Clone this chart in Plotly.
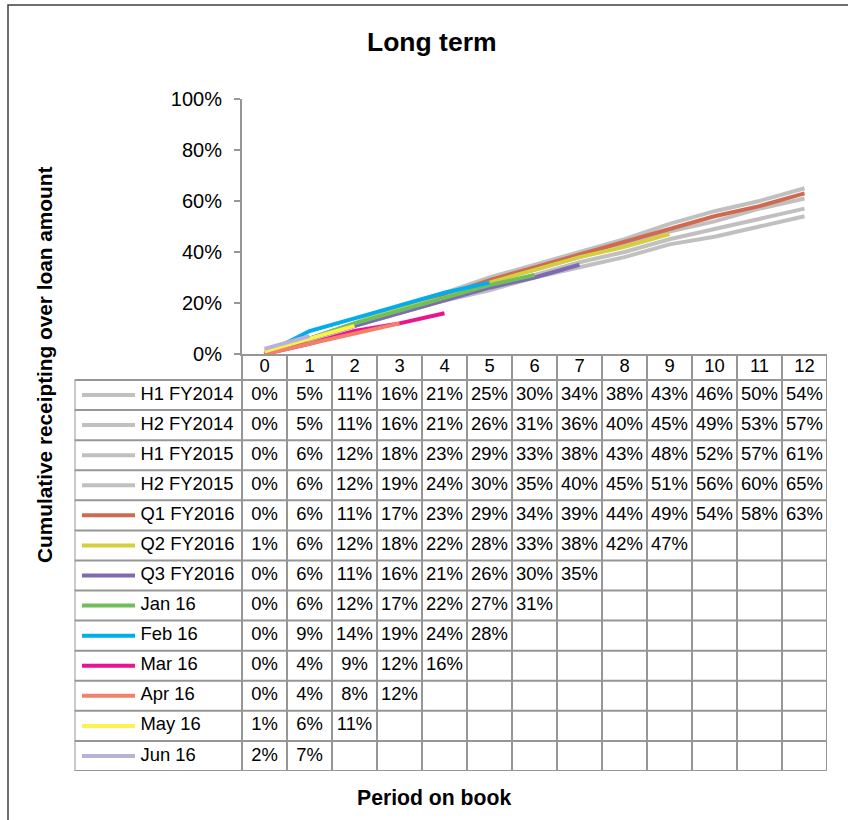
import plotly.graph_objects as go

# ---------------- data ----------------
periods = list(range(13))
series_names = ["H1 FY2014", "H2 FY2014", "H1 FY2015", "H2 FY2015", "Q1 FY2016",
                "Q2 FY2016", "Q3 FY2016", "Jan 16", "Feb 16", "Mar 16", "Apr 16",
                "May 16", "Jun 16"]
h1_fy2014 = [0, 5, 11, 16, 21, 25, 30, 34, 38, 43, 46, 50, 54]
h2_fy2014 = [0, 5, 11, 16, 21, 26, 31, 36, 40, 45, 49, 53, 57]
h1_fy2015 = [0, 6, 12, 18, 23, 29, 33, 38, 43, 48, 52, 57, 61]
h2_fy2015 = [0, 6, 12, 19, 24, 30, 35, 40, 45, 51, 56, 60, 65]
q1_fy2016 = [0, 6, 11, 17, 23, 29, 34, 39, 44, 49, 54, 58, 63]
q2_fy2016 = [1, 6, 12, 18, 22, 28, 33, 38, 42, 47]
q3_fy2016 = [0, 6, 11, 16, 21, 26, 30, 35]
jan_16 = [0, 6, 12, 17, 22, 27, 31]
feb_16 = [0, 9, 14, 19, 24, 28]
mar_16 = [0, 4, 9, 12, 16]
apr_16 = [0, 4, 8, 12]
may_16 = [1, 6, 11]
jun_16 = [2, 7]
series_values = [h1_fy2014, h2_fy2014, h1_fy2015, h2_fy2015, q1_fy2016, q2_fy2016,
                 q3_fy2016, jan_16, feb_16, mar_16, apr_16, may_16, jun_16]
series_colors = ["#C0C0C0", "#C0C0C0", "#C0C0C0", "#C0C0C0", "#CF6A4E",
                 "#D3CF3E", "#7E6AB3", "#6FBE5A", "#00AEEF", "#EA1390",
                 "#F5806A", "#FAF24E", "#B9B1D8"]
y_ticks = [0, 0.2, 0.4, 0.6, 0.8, 1.0]

# ---------------- layout helpers ----------------
W, H = 848, 820
def fx(p):
    return p / W
def fy(p):
    return 1 - p / H

chart_left, chart_right = 242, 827
chart_top, chart_bottom = 99, 354
table_left, table_bottom = 74.5, 771
col_px = (chart_right - chart_left) / len(periods)
row_px = (table_bottom - 380) / len(series_names)
header_units = (380 - chart_bottom) / row_px
label_units = (chart_left - table_left) / col_px
x2_min = -0.5 - label_units
x2_max = len(periods) - 0.5
y2_top = 0.5 - header_units
y2_bottom = len(series_names) + 0.5
grid_color = "#969696"
font_family = "Liberation Sans, Arial, sans-serif"
table_font = 18.4

fig = go.Figure()

# chart lines
for name, vals, col in zip(series_names, series_values, series_colors):
    fig.add_trace(go.Scatter(
        x=periods[:len(vals)], y=[v / 100 for v in vals], mode="lines", name=name,
        line=dict(color=col, width=4), xaxis="x", yaxis="y", hoverinfo="skip"))

# table: legend samples
for i, (name, col) in enumerate(zip(series_names, series_colors)):
    row = i + 1
    fig.add_trace(go.Scatter(
        x=[x2_min + 7.5 / col_px, x2_min + 60.5 / col_px], y=[row, row], mode="lines",
        line=dict(color=col, width=4), xaxis="x2", yaxis="y2", hoverinfo="skip"))

# table: series labels
fig.add_trace(go.Scatter(
    x=[x2_min + 66 / col_px] * len(series_names),
    y=list(range(1, len(series_names) + 1)), text=series_names, mode="text",
    textposition="middle right",
    textfont=dict(size=table_font, color="#000000", family=font_family),
    xaxis="x2", yaxis="y2", hoverinfo="skip"))

# table: header (period numbers)
fig.add_trace(go.Scatter(
    x=periods, y=[(y2_top + 0.5) / 2] * len(periods), text=[str(p) for p in periods],
    mode="text", textposition="middle center",
    textfont=dict(size=table_font, color="#000000", family=font_family),
    xaxis="x2", yaxis="y2", hoverinfo="skip"))

# table: values
cx, cy, ct = [], [], []
for i, vals in enumerate(series_values):
    for p, v in zip(periods, vals):
        cx.append(p)
        cy.append(i + 1)
        ct.append(f"{v}%")
fig.add_trace(go.Scatter(
    x=cx, y=cy, text=ct, mode="text", textposition="middle center",
    textfont=dict(size=table_font, color="#000000", family=font_family),
    xaxis="x2", yaxis="y2", hoverinfo="skip"))

# table grid lines
shapes = []
for k in range(len(series_names) + 1):
    yk = k + 0.5
    shapes.append(dict(type="line", xref="x2", yref="y2", x0=x2_min, x1=x2_max,
                       y0=yk, y1=yk, line=dict(color=grid_color, width=2)))
for c in range(len(periods) + 1):
    xc = c - 0.5
    shapes.append(dict(type="line", xref="x2", yref="y2", x0=xc, x1=xc,
                       y0=y2_top, y1=y2_bottom, line=dict(color=grid_color, width=2)))
shapes.append(dict(type="line", xref="x2", yref="y2", x0=x2_min, x1=x2_min,
                   y0=0.5, y1=y2_bottom, line=dict(color=grid_color, width=2)))
# outer chart border
shapes.append(dict(type="rect", xref="paper", yref="paper", x0=fx(8), y0=fy(5),
                   x1=1.05, y1=-0.05, line=dict(color="#404040", width=1.5)))

fig.update_layout(
    template="none",
    width=W, height=H, margin=dict(l=0, r=0, t=0, b=0, pad=0, autoexpand=False),
    paper_bgcolor="white", plot_bgcolor="white", showlegend=False,
    font=dict(family=font_family, color="#000000"),
    xaxis=dict(domain=[fx(chart_left), fx(chart_right)], range=[-0.5, len(periods) - 0.5],
               showline=True, linecolor=grid_color, linewidth=2, showticklabels=False,
               ticks="", showgrid=False, zeroline=False, anchor="y", automargin=False),
    yaxis=dict(domain=[fy(chart_bottom), fy(chart_top)], range=[0, 1], tickvals=y_ticks,
               tickformat=".0%", ticks="outside", ticklen=6, tickcolor=grid_color,
               tickwidth=1.5, showline=True, linecolor=grid_color, linewidth=2,
               showgrid=False, zeroline=False, tickfont=dict(size=20),
               ticklabelstandoff=8, anchor="x", automargin=False),
    xaxis2=dict(domain=[fx(table_left), fx(chart_right)], range=[x2_min, x2_max],
                visible=False, anchor="y2", automargin=False),
    yaxis2=dict(domain=[fy(table_bottom), fy(chart_bottom)], range=[y2_bottom, y2_top],
                visible=False, anchor="x2", automargin=False),
    shapes=shapes,
    annotations=[
        dict(text="<b>Long term</b>", xref="paper", yref="paper", x=fx(432), y=fy(42),
             showarrow=False, font=dict(size=26.5), xanchor="center", yanchor="middle"),
        dict(text="<b>Cumulative receipting over loan amount</b>", xref="paper",
             yref="paper", x=fx(45), y=fy(365), textangle=-90, showarrow=False,
             font=dict(size=20.8), xanchor="center", yanchor="middle"),
        dict(text="<b>Period on book</b>", xref="paper", yref="paper", x=fx(434),
             y=fy(797), showarrow=False, font=dict(size=21.2), xanchor="center",
             yanchor="middle"),
    ],
)

fig.write_html("out.html", config={"displayModeBar": False, "responsive": False},
               post_script="document.body.style.margin='0';document.body.style.overflow='hidden';")
